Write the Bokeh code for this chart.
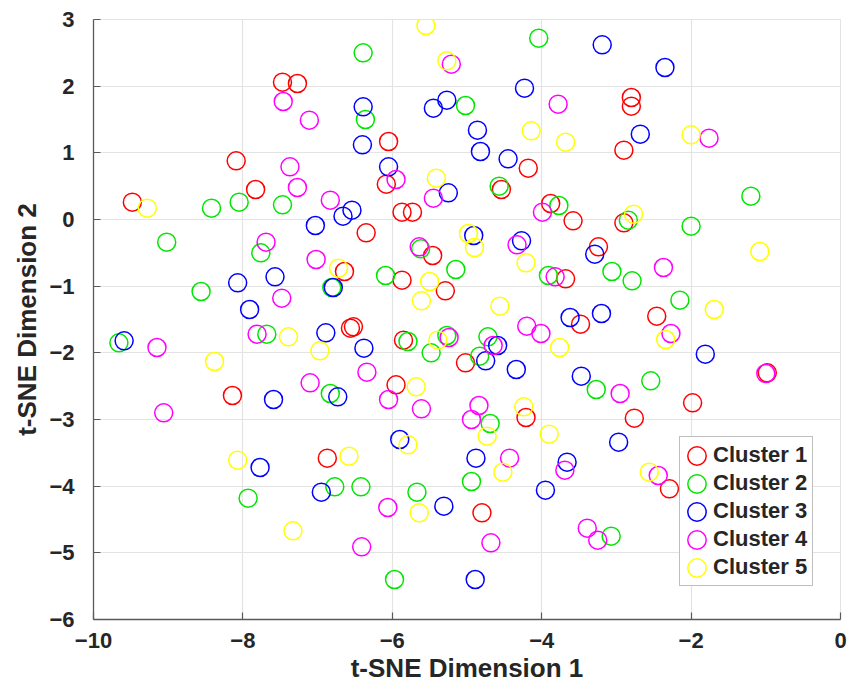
from bokeh.plotting import figure
from bokeh.models import Range1d, FixedTicker, Legend, LegendItem
from bokeh.embed import file_html
from bokeh.resources import INLINE

# ---- data ----
c1_x = [-7.47, -7.27, -8.09, -7.83, -9.48, -6.05, -4.18, -6.08, -4.54, -5.87, -5.73, -3.88, -3.58,
        -2.80, -2.80, -2.90, -2.90, -3.24, -3.68, -3.48, -2.46, -0.98, -1.98, -2.76, -2.29, -8.14,
        -6.87, -6.35, -5.46, -6.64, -5.87, -5.29, -6.52, -6.56, -5.85, -5.02, -5.95, -4.21, -4.80]
c1_y = [2.06, 2.04, 0.88, 0.45, 0.26, 1.17, 0.77, 0.53, 0.45, 0.11, 0.11, 0.24, -0.02,
        1.83, 1.70, 1.04, -0.05, -0.41, -0.89, -1.57, -1.45, -2.30, -2.75, -2.98, -4.04, -2.64,
        -3.58, -0.20, -0.54, -0.78, -0.91, -1.07, -1.61, -1.63, -1.81, -2.15, -2.48, -2.97, -4.40]

c2_x = [-4.04, -6.39, -6.36, -5.02, -8.42, -8.05, -7.47, -4.57, -3.77, -2.84, -2.00, -1.20, -3.06,
        -2.79, -2.15, -3.27, -2.54, -3.07, -9.02, -7.76, -8.56, -6.81, -9.66, -7.68, -6.83, -7.93,
        -6.77, -5.62, -6.09, -5.15, -3.91, -5.79, -5.27, -5.48, -4.72, -4.83, -4.69, -6.42, -5.67,
        -4.94, -5.97]
c2_y = [2.72, 2.50, 1.50, 1.71, 0.17, 0.26, 0.22, 0.50, 0.21, -0.01, -0.10, 0.35, -0.78,
        -0.92, -1.21, -2.55, -2.42, -4.75, -0.34, -0.50, -1.08, -1.02, -1.85, -1.72, -2.61, -4.18,
        -4.01, -0.44, -0.84, -0.75, -0.84, -1.83, -1.74, -2.00, -1.76, -2.05, -3.06, -4.01, -4.09,
        -3.93, -5.40]

c3_x = [-3.19, -2.35, -4.23, -6.39, -5.45, -5.27, -4.86, -6.40, -4.82, -4.45, -6.05, -5.25, -6.54,
        -6.66, -2.68, -3.29, -3.20, -3.62, -1.81, -3.47, -2.97, -3.66, -7.03, -8.07, -7.57, -7.91,
        -6.79, -9.59, -6.89, -6.73, -7.59, -7.77, -6.95, -4.91, -4.27, -6.38, -4.59, -4.75, -4.34,
        -5.90, -4.88, -5.31, -3.95, -4.89]
c3_y = [2.62, 2.28, 1.97, 1.69, 1.67, 1.79, 1.34, 1.12, 1.02, 0.91, 0.79, 0.40, 0.14,
        0.05, 1.28, -0.52, -1.41, -1.47, -2.02, -2.35, -3.34, -3.64, -0.09, -0.95, -0.86, -1.35,
        -1.02, -1.82, -1.70, -2.66, -2.70, -3.72, -4.09, -0.24, -0.32, -1.93, -1.89, -2.12, -2.25,
        -3.30, -3.58, -4.30, -4.06, -5.40]

c4_x = [-7.46, -7.11, -7.37, -7.27, -6.83, -5.21, -3.78, -5.95, -5.45, -3.99, -1.76, -2.37, -2.27,
        -1.00, -2.95, -2.44, -3.39, -3.25, -7.69, -7.02, -7.48, -9.15, -7.81, -7.10, -9.06, -4.33,
        -5.64, -3.82, -6.34, -5.24, -4.65, -4.20, -4.01, -6.05, -5.61, -4.84, -4.94, -4.43, -3.69,
        -6.06, -4.68, -6.41]
c4_y = [1.77, 1.49, 0.79, 0.48, 0.29, 2.33, 1.73, 0.60, 0.32, 0.11, 1.22, -0.72, -1.71,
        -2.31, -2.61, -3.84, -4.63, -4.81, -0.34, -0.60, -1.18, -1.92, -1.72, -2.45, -2.90, -0.38,
        -0.41, -0.86, -2.29, -1.77, -1.89, -1.60, -1.71, -2.70, -2.84, -2.79, -3.00, -3.58, -3.76,
        -4.32, -4.85, -4.91]

c5_x = [-5.55, -5.27, -4.14, -3.68, -5.41, -9.28, -2.00, -2.77, -1.08, -1.69, -2.34, -2.56, -6.72,
        -7.39, -6.97, -8.38, -8.07, -7.33, -4.98, -4.90, -4.21, -5.50, -5.61, -4.56, -5.39, -3.76,
        -5.68, -4.24, -4.73, -3.90, -6.58, -5.79, -4.52, -5.64]
c5_y = [2.91, 2.38, 1.33, 1.16, 0.62, 0.17, 1.27, 0.08, -0.48, -1.35, -1.80, -3.79, -0.73,
        -1.76, -1.97, -2.13, -3.61, -4.67, -0.21, -0.42, -0.65, -0.93, -1.22, -1.30, -1.81, -1.92,
        -2.51, -2.81, -3.25, -3.22, -3.55, -3.38, -3.79, -4.40]

names = ["Cluster 1", "Cluster 2", "Cluster 3", "Cluster 4", "Cluster 5"]
colors = ["#ff0000", "#00e600", "#0000ff", "#ff00ff", "#ffff00"]
x_ticks = [-10, -8, -6, -4, -2, 0]
y_ticks = [-6, -5, -4, -3, -2, -1, 0, 1, 2, 3]

FONT = "Liberation Sans"
AX = "#262626"

p = figure(width=848, height=688, output_backend="svg", toolbar_location=None,
           x_range=Range1d(-10, 0), y_range=Range1d(-6, 3),
           min_border_left=93, min_border_right=8, min_border_top=19, min_border_bottom=69)

p.background_fill_color = "white"
p.border_fill_color = "white"
p.outline_line_color = "#e3e3e3"

for ax in (p.xaxis, p.yaxis):
    ax.axis_line_color = "#5a5a5a"
    ax.axis_line_width = 1.3
    ax.major_tick_line_color = "#5a5a5a"
    ax.major_tick_line_width = 1.2
    ax.major_tick_in = 7
    ax.major_tick_out = 0
    ax.minor_tick_line_color = None
    ax.major_label_text_font = FONT
    ax.major_label_text_font_style = "bold"
    ax.major_label_text_font_size = "22px"
    ax.major_label_text_color = AX
    ax.axis_label_text_font = FONT
    ax.axis_label_text_font_style = "bold"
    ax.axis_label_text_color = AX

p.xaxis.ticker = FixedTicker(ticks=x_ticks)
p.yaxis.ticker = FixedTicker(ticks=y_ticks)
p.xaxis.major_label_standoff = 13
p.yaxis.major_label_standoff = 19
p.xaxis.axis_label = "t-SNE Dimension 1"
p.yaxis.axis_label = "t-SNE Dimension 2"
p.xaxis.axis_label_text_font_size = "26px"
p.yaxis.axis_label_text_font_size = "26px"
p.xaxis.axis_label_standoff = 2
p.yaxis.axis_label_standoff = 4

p.grid.grid_line_color = "#e3e3e3"
p.grid.grid_line_width = 1.2

series = [(c1_x, c1_y), (c2_x, c2_y), (c3_x, c3_y), (c4_x, c4_y), (c5_x, c5_y)]
items = []
for (xs, ys), name, col in zip(series, names, colors):
    r = p.ellipse(x=xs, y=ys, width=18, height=18, width_units="screen", height_units="screen",
                  fill_color=None, line_color=col, line_width=1.5)
    items.append(LegendItem(label=name, renderers=[r]))

legend = Legend(items=items, location=(586, 33),
                glyph_width=23, glyph_height=23, label_height=20,
                spacing=2, padding=5, label_standoff=5,
                label_text_font=FONT, label_text_font_style="bold",
                label_text_font_size="22px", label_text_color=AX,
                border_line_color="#808080", border_line_width=1.3,
                background_fill_color="white", background_fill_alpha=1.0)
p.add_layout(legend, "center")

open("out.html", "w").write(file_html(p, INLINE))
